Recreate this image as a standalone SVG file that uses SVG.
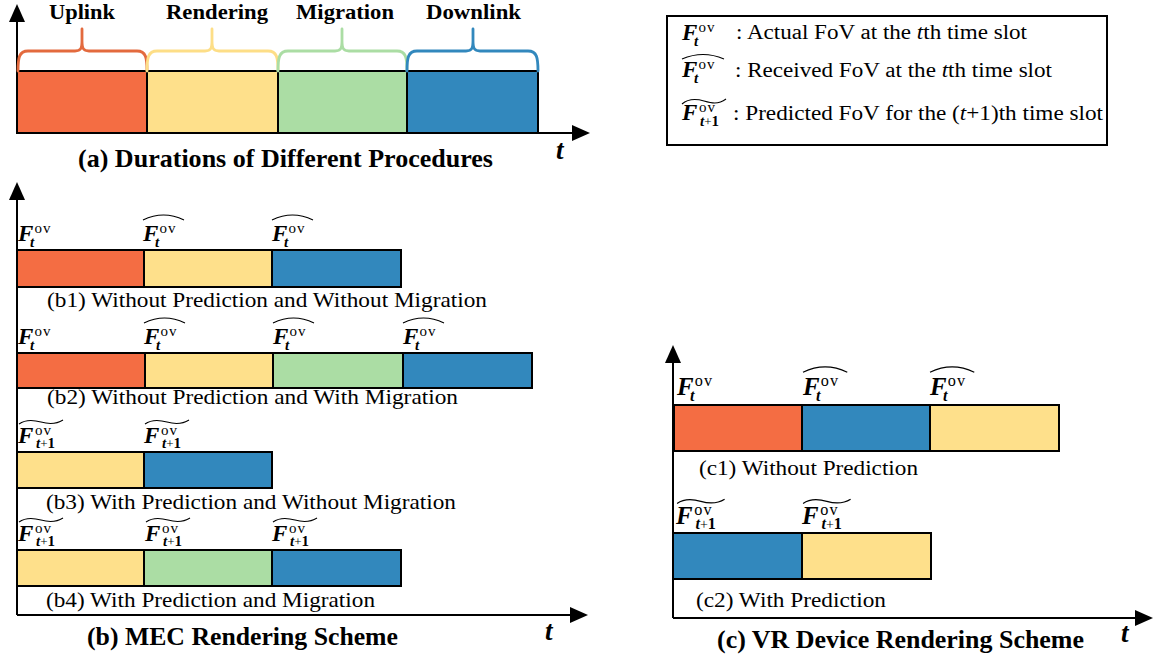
<svg xmlns="http://www.w3.org/2000/svg" width="1156" height="661" viewBox="0 0 1156 661" font-family="'Liberation Serif','Times New Roman',Times,serif">
<style>
text{font-family:"Liberation Serif","Times New Roman",Times,serif;fill:#000}
.lbl{font-weight:bold;font-size:21px;text-anchor:middle}
.cap{font-weight:bold;font-size:25px}
.sub{font-size:22px}
.tt{font-weight:bold;font-style:italic;font-size:27px}
.lg{font-size:20px}
.F{font-weight:bold;font-style:italic;font-size:23px}
.ov{font-weight:normal;font-style:normal;font-size:15px;letter-spacing:1px}
.st{font-weight:bold;font-style:italic;font-size:15px}
.pl{font-weight:normal;font-style:normal;font-size:13px}
.one{font-weight:bold;font-style:normal;font-size:15px}
.acc{fill:none;stroke:#000;stroke-width:1.1}
.ax{stroke:#000;stroke-width:2;fill:none}
.bx{stroke:#000;stroke-width:2}
.or{fill:#F46D43}.ye{fill:#FEE08B}.gr{fill:#ABDDA4}.bl{fill:#3288BD}
.br{fill:none;stroke-width:2.8;stroke-linecap:round;stroke-linejoin:round}
</style>
<defs>
<marker id="arr" viewBox="0 0 18 16" refX="4" refY="8" markerWidth="18" markerHeight="16" markerUnits="userSpaceOnUse" orient="auto">
<path d="M0,0 L18,8 L0,16 z" fill="#000"/>
</marker>
</defs>

<!-- connectors: axes -->
<g id="connectors">
<line class="ax" x1="17" y1="133" x2="17" y2="18" marker-end="url(#arr)"/>
<line class="ax" x1="17" y1="133" x2="576" y2="133" marker-end="url(#arr)"/>
<line class="ax" x1="17" y1="615" x2="17" y2="196" marker-end="url(#arr)"/>
<line class="ax" x1="17" y1="615" x2="574" y2="615" marker-end="url(#arr)"/>
<line class="ax" x1="673" y1="618" x2="673" y2="359" marker-end="url(#arr)"/>
<line class="ax" x1="673" y1="618" x2="1139" y2="618" marker-end="url(#arr)"/>
</g>

<!-- Panel (a) -->
<g id="panel-a">
<g id="a-uplink">
<rect class="bx or" x="17" y="71" width="130" height="62"/>
<path class="br" stroke="#E36A3E" d="M18,71 C18,58 19,51 28,51 L75,51 C81,51 82,48 82,41 L82,29 M82,41 C82,48 83,51 89,51 L137,51 C146,51 147,58 147,71"/>
<text class="lbl" x="82" y="19" textLength="66" lengthAdjust="spacingAndGlyphs">Uplink</text>
</g>
<g id="a-rendering">
<rect class="bx ye" x="147" y="71" width="131" height="62"/>
<path class="br" stroke="#FDDE87" d="M147,71 C147,58 148,51 157,51 L205,51 C211,51 212,48 212,41 L212,29 M212,41 C212,48 213,51 219,51 L268,51 C277,51 278,58 278,71"/>
<text class="lbl" x="217" y="19" textLength="102" lengthAdjust="spacingAndGlyphs">Rendering</text>
</g>
<g id="a-migration">
<rect class="bx gr" x="278" y="71" width="129" height="62"/>
<path class="br" stroke="#ABDDA4" d="M278,71 C278,58 279,51 288,51 L335,51 C341,51 342,48 342,41 L342,29 M342,41 C342,48 343,51 349,51 L397,51 C406,51 407,58 407,71"/>
<text class="lbl" x="345" y="19" textLength="98" lengthAdjust="spacingAndGlyphs">Migration</text>
</g>
<g id="a-downlink">
<rect class="bx bl" x="407" y="71" width="131" height="62"/>
<path class="br" stroke="#3288BD" d="M407,71 C407,58 408,51 417,51 L466,51 C472,51 473,48 473,41 L473,29 M473,41 C473,48 474,51 480,51 L528,51 C537,51 538,58 538,71"/>
<text class="lbl" x="473.5" y="19" textLength="95" lengthAdjust="spacingAndGlyphs">Downlink</text>
</g>
<text class="tt" x="556" y="159">t</text>
<text class="cap" x="78" y="167" textLength="415" lengthAdjust="spacingAndGlyphs">(a) Durations of Different Procedures</text>
</g>

<!-- Legend -->
<g id="legend">
<rect x="667" y="16" width="440" height="129" fill="#fff" stroke="#000" stroke-width="2"/>
<g transform="translate(682,40)"><text class="F" x="0" y="0">F<tspan class="ov" x="16.5" y="-8">ov</tspan><tspan class="st" x="12" y="6">t</tspan></text></g>
<text class="lg" x="736" y="39" textLength="291" lengthAdjust="spacingAndGlyphs">: Actual FoV at the <tspan font-style="italic">t</tspan>th time slot</text>
<g transform="translate(682,77)"><path class="acc" d="M0,-18 Q21,-27 42,-18"/><text class="F" x="0" y="0">F<tspan class="ov" x="16.5" y="-8">ov</tspan><tspan class="st" x="12" y="6">t</tspan></text></g>
<text class="lg" x="735" y="77" textLength="317" lengthAdjust="spacingAndGlyphs">: Received FoV at the <tspan font-style="italic">t</tspan>th time slot</text>
<g transform="translate(682,120)"><path class="acc" d="M0,-16 C7,-22 15,-21 22,-19 S36,-15 44,-21"/><text class="F" x="0" y="0">F<tspan class="ov" x="17" y="-8">ov</tspan><tspan class="st" x="18" y="6">t</tspan><tspan class="pl">+</tspan><tspan class="one">1</tspan></text></g>
<text class="lg" x="733" y="120" textLength="370" lengthAdjust="spacingAndGlyphs">: Predicted FoV for the (<tspan font-style="italic">t</tspan>+1)th time slot</text>
</g>

<!-- Panel (b) -->
<g id="panel-b">
<g id="b1">
<rect class="bx or" x="17" y="250" width="127" height="37"/>
<rect class="bx ye" x="144" y="250" width="128" height="37"/>
<rect class="bx bl" x="272" y="250" width="129" height="37"/>
<g transform="translate(18,241)"><text class="F" x="0" y="0">F<tspan class="ov" x="16.5" y="-8">ov</tspan><tspan class="st" x="12" y="6">t</tspan></text></g>
<g transform="translate(143,241)"><path class="acc" d="M0,-21 Q20.5,-31 41,-21"/><text class="F" x="0" y="0">F<tspan class="ov" x="16.5" y="-8">ov</tspan><tspan class="st" x="12" y="6">t</tspan></text></g>
<g transform="translate(272,241)"><path class="acc" d="M0,-21 Q20.5,-31 41,-21"/><text class="F" x="0" y="0">F<tspan class="ov" x="16.5" y="-8">ov</tspan><tspan class="st" x="12" y="6">t</tspan></text></g>
<text class="sub" x="47" y="307" textLength="440" lengthAdjust="spacingAndGlyphs">(b1) Without Prediction and Without Migration</text>
</g>
<g id="b2">
<rect class="bx or" x="17" y="353" width="128" height="35"/>
<rect class="bx ye" x="145" y="353" width="128" height="35"/>
<rect class="bx gr" x="273" y="353" width="130" height="35"/>
<rect class="bx bl" x="403" y="353" width="129" height="35"/>
<g transform="translate(18,344)"><text class="F" x="0" y="0">F<tspan class="ov" x="16.5" y="-8">ov</tspan><tspan class="st" x="12" y="6">t</tspan></text></g>
<g transform="translate(144,344)"><path class="acc" d="M0,-21 Q20.5,-31 41,-21"/><text class="F" x="0" y="0">F<tspan class="ov" x="16.5" y="-8">ov</tspan><tspan class="st" x="12" y="6">t</tspan></text></g>
<g transform="translate(273,344)"><path class="acc" d="M0,-21 Q20.5,-31 41,-21"/><text class="F" x="0" y="0">F<tspan class="ov" x="16.5" y="-8">ov</tspan><tspan class="st" x="12" y="6">t</tspan></text></g>
<g transform="translate(403,344)"><path class="acc" d="M0,-21 Q20.5,-31 41,-21"/><text class="F" x="0" y="0">F<tspan class="ov" x="16.5" y="-8">ov</tspan><tspan class="st" x="12" y="6">t</tspan></text></g>
<text class="sub" x="47" y="404" textLength="411" lengthAdjust="spacingAndGlyphs">(b2) Without Prediction and With Migration</text>
</g>
<g id="b3">
<rect class="bx ye" x="17" y="452" width="127" height="36"/>
<rect class="bx bl" x="144" y="452" width="128" height="36"/>
<g transform="translate(18,443)"><path class="acc" d="M1,-19 C8,-24 16,-23 23,-21 S37,-18 45,-23"/><text class="F" x="0" y="0">F<tspan class="ov" x="17" y="-8">ov</tspan><tspan class="st" x="18" y="5">t</tspan><tspan class="pl">+</tspan><tspan class="one">1</tspan></text></g>
<g transform="translate(144,443)"><path class="acc" d="M1,-19 C8,-24 16,-23 23,-21 S37,-18 45,-23"/><text class="F" x="0" y="0">F<tspan class="ov" x="17" y="-8">ov</tspan><tspan class="st" x="18" y="5">t</tspan><tspan class="pl">+</tspan><tspan class="one">1</tspan></text></g>
<text class="sub" x="46" y="509" textLength="410" lengthAdjust="spacingAndGlyphs">(b3) With Prediction and Without Migration</text>
</g>
<g id="b4">
<rect class="bx ye" x="17" y="550" width="127" height="36"/>
<rect class="bx gr" x="144" y="550" width="128" height="36"/>
<rect class="bx bl" x="272" y="550" width="129" height="36"/>
<g transform="translate(18,541)"><path class="acc" d="M1,-19 C8,-24 16,-23 23,-21 S37,-18 45,-23"/><text class="F" x="0" y="0">F<tspan class="ov" x="17" y="-8">ov</tspan><tspan class="st" x="18" y="5">t</tspan><tspan class="pl">+</tspan><tspan class="one">1</tspan></text></g>
<g transform="translate(145,541)"><path class="acc" d="M1,-19 C8,-24 16,-23 23,-21 S37,-18 45,-23"/><text class="F" x="0" y="0">F<tspan class="ov" x="17" y="-8">ov</tspan><tspan class="st" x="18" y="5">t</tspan><tspan class="pl">+</tspan><tspan class="one">1</tspan></text></g>
<g transform="translate(272,541)"><path class="acc" d="M1,-19 C8,-24 16,-23 23,-21 S37,-18 45,-23"/><text class="F" x="0" y="0">F<tspan class="ov" x="17" y="-8">ov</tspan><tspan class="st" x="18" y="5">t</tspan><tspan class="pl">+</tspan><tspan class="one">1</tspan></text></g>
<text class="sub" x="46" y="607" textLength="329" lengthAdjust="spacingAndGlyphs">(b4) With Prediction and Migration</text>
</g>
<text class="tt" x="545" y="640">t</text>
<text class="cap" x="87" y="645" textLength="311" lengthAdjust="spacingAndGlyphs">(b) MEC Rendering Scheme</text>
</g>

<!-- Panel (c) -->
<g id="panel-c">
<g id="c1">
<rect class="bx or" x="674" y="405" width="128" height="46"/>
<rect class="bx bl" x="802" y="405" width="128" height="46"/>
<rect class="bx ye" x="930" y="405" width="129" height="46"/>
<g transform="translate(677,395) scale(1.08)"><text class="F" x="0" y="0">F<tspan class="ov" x="16.5" y="-8">ov</tspan><tspan class="st" x="12" y="6">t</tspan></text></g>
<g transform="translate(803,395) scale(1.08)"><path class="acc" d="M0,-21 Q20.5,-31 41,-21"/><text class="F" x="0" y="0">F<tspan class="ov" x="16.5" y="-8">ov</tspan><tspan class="st" x="12" y="6">t</tspan></text></g>
<g transform="translate(930,395) scale(1.08)"><path class="acc" d="M0,-21 Q20.5,-31 41,-21"/><text class="F" x="0" y="0">F<tspan class="ov" x="16.5" y="-8">ov</tspan><tspan class="st" x="12" y="6">t</tspan></text></g>
<text class="sub" x="699" y="475" font-size="23" textLength="219" lengthAdjust="spacingAndGlyphs">(c1) Without Prediction</text>
</g>
<g id="c2">
<rect class="bx bl" x="673" y="533" width="129" height="46"/>
<rect class="bx ye" x="802" y="533" width="129" height="46"/>
<g transform="translate(676,524) scale(1.08)"><path class="acc" d="M1,-19 C8,-24 16,-23 23,-21 S37,-18 45,-23"/><text class="F" x="0" y="0">F<tspan class="ov" x="17" y="-8">ov</tspan><tspan class="st" x="18" y="5">t</tspan><tspan class="pl">+</tspan><tspan class="one">1</tspan></text></g>
<g transform="translate(802,524) scale(1.08)"><path class="acc" d="M1,-19 C8,-24 16,-23 23,-21 S37,-18 45,-23"/><text class="F" x="0" y="0">F<tspan class="ov" x="17" y="-8">ov</tspan><tspan class="st" x="18" y="5">t</tspan><tspan class="pl">+</tspan><tspan class="one">1</tspan></text></g>
<text class="sub" x="696" y="607" font-size="23" textLength="190" lengthAdjust="spacingAndGlyphs">(c2) With Prediction</text>
</g>
<text class="tt" x="1121" y="642">t</text>
<text class="cap" x="717" y="648" textLength="367" lengthAdjust="spacingAndGlyphs">(c) VR Device Rendering Scheme</text>
</g>
</svg>
